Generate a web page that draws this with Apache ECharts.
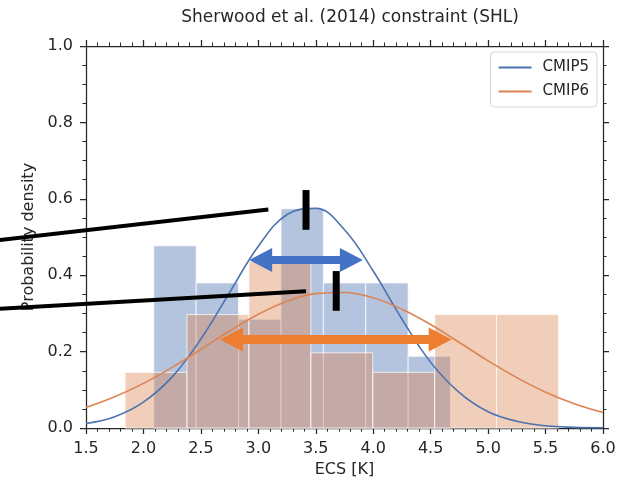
<!DOCTYPE html>
<html>
<head>
<meta charset="utf-8">
<script src="https://cdn.jsdelivr.net/npm/echarts@6/dist/echarts.min.js"></script>
<style>
  html, body { margin: 0; padding: 0; background: #fff; }
  #main { width: 621px; height: 483px; }
</style>
</head>
<body>
<div id="main"></div>
<script>
// histogram bin edges and densities
const cmip5Edges = [2.09, 2.459, 2.828, 3.197, 3.566, 3.935, 4.304, 4.673];
const cmip5Dens = [0.477, 0.380, 0.285, 0.574, 0.380, 0.380, 0.188];
const cmip6Edges = [1.84, 2.379, 2.918, 3.457, 3.996, 4.535, 5.074, 5.613];
const cmip6Dens = [0.146, 0.297, 0.436, 0.197, 0.146, 0.297, 0.297];

// fitted curves
const curveX = [1.5, 1.75, 2.0, 2.25, 2.5, 2.75, 3.0, 3.25, 3.5, 3.75, 4.0, 4.25, 4.5, 4.75, 5.0, 5.25, 5.5, 5.75, 6.0];
const cmip5Curve = [0.012, 0.030, 0.068, 0.134, 0.233, 0.355, 0.476, 0.559, 0.575, 0.519, 0.411, 0.285, 0.172, 0.093, 0.043, 0.018, 0.006, 0.002, 0.001];
const cmip6Curve = [0.054, 0.082, 0.117, 0.159, 0.206, 0.254, 0.298, 0.332, 0.352, 0.355, 0.341, 0.311, 0.271, 0.224, 0.176, 0.132, 0.094, 0.064, 0.041];

// range arrows: [from, to, y]
const arrows = [[2.92, 3.91, 0.440], [2.666, 4.683, 0.232]];
const arrowColors = ['#4472c4', '#ed7d31'];

// black annotation strokes: [x0, y0, x1, y1, width]
const strokes = [
  [0.74, 0.492, 3.087, 0.572, 4],
  [0.74, 0.312, 3.415, 0.358, 4],
  [3.415, 0.519, 3.415, 0.623, 7],
  [3.678, 0.307, 3.678, 0.411, 7]
];

const blue = '#4c72b0';
const orange = '#dd8452';
const ink = '#262626';

function histData(edges, dens) {
  return dens.map((d, i) => [edges[i], edges[i + 1], d]);
}

function histSeries(name, edges, dens, fill) {
  return {
    name: name + ' hist',
    type: 'custom',
    data: histData(edges, dens),
    encode: { x: [0, 1], y: 2 },
    silent: true,
    renderItem: function (params, api) {
      const p0 = api.coord([api.value(0), api.value(2)]);
      const p1 = api.coord([api.value(1), 0]);
      return {
        type: 'rect',
        shape: { x: p0[0], y: p0[1], width: p1[0] - p0[0], height: p1[1] - p0[1] },
        style: { fill: fill, stroke: 'rgba(255,255,255,0.75)', lineWidth: 1 }
      };
    }
  };
}

function makeX(pos) {
  const bottom = pos === 'bottom';
  return {
    type: 'value', position: pos, min: 1.5, max: 6.0, interval: 0.5,
    axisLine: { show: true, onZero: false, lineStyle: { color: ink, width: 1.25 } },
    axisTick: { show: true, length: 6, lineStyle: { color: ink, width: 1.25 } },
    minorTick: { show: true, splitNumber: 5, length: 3.5, lineStyle: { color: ink, width: 1 } },
    splitLine: { show: false },
    axisLabel: { show: bottom, fontSize: 16, color: ink, margin: 13, formatter: v => v.toFixed(1) },
    name: bottom ? 'ECS [K]' : '',
    nameLocation: 'middle', nameGap: 33,
    nameTextStyle: { fontSize: 16, color: ink }
  };
}

function makeY(pos) {
  const left = pos === 'left';
  return {
    type: 'value', position: pos, min: 0, max: 1.0, interval: 0.2,
    axisLine: { show: true, onZero: false, lineStyle: { color: ink, width: 1.25 } },
    axisTick: { show: true, length: 6, lineStyle: { color: ink, width: 1.25 } },
    minorTick: { show: true, splitNumber: 4, length: 3.5, lineStyle: { color: ink, width: 1 } },
    splitLine: { show: false },
    axisLabel: { show: left, fontSize: 16, color: ink, margin: 13, formatter: v => v.toFixed(1) },
    name: left ? 'Probability density' : '',
    nameLocation: 'middle', nameGap: 47,
    nameTextStyle: { fontSize: 16, color: ink }
  };
}

const series = [
  histSeries('CMIP5', cmip5Edges, cmip5Dens, 'rgba(76,114,176,0.42)'),
  histSeries('CMIP6', cmip6Edges, cmip6Dens, 'rgba(221,132,82,0.4)'),
  {
    name: 'CMIP5', type: 'line', smooth: 0.4, symbol: 'none',
    data: curveX.map((x, i) => [x, cmip5Curve[i]]),
    lineStyle: { color: blue, width: 1.6 }, itemStyle: { color: blue }, z: 3
  },
  {
    name: 'CMIP6', type: 'line', smooth: 0.4, symbol: 'none',
    data: curveX.map((x, i) => [x, cmip6Curve[i]]),
    lineStyle: { color: orange, width: 1.6 }, itemStyle: { color: orange }, z: 3
  },
  {
    name: 'arrows', type: 'custom', data: arrows, silent: true, z: 4,
    encode: { x: [0, 1], y: 2 },
    renderItem: function (params, api) {
      const a = api.coord([api.value(0), api.value(2)]);
      const b = api.coord([api.value(1), api.value(2)]);
      const hl = 23, hw = 12, sw = params.dataIndex === 0 ? 4 : 4.5;
      const y = a[1];
      const pts = [
        [a[0], y], [a[0] + hl, y - hw], [a[0] + hl, y - sw], [b[0] - hl, y - sw],
        [b[0] - hl, y - hw], [b[0], y], [b[0] - hl, y + hw], [b[0] - hl, y + sw],
        [a[0] + hl, y + sw], [a[0] + hl, y + hw]
      ];
      return { type: 'polygon', shape: { points: pts }, style: { fill: arrowColors[params.dataIndex] } };
    }
  },
  {
    name: 'strokes', type: 'custom', data: strokes, silent: true, z: 6, clip: false,
    encode: { x: [0, 2], y: [1, 3] },
    renderItem: function (params, api) {
      const a = api.coord([api.value(0), api.value(1)]);
      const b = api.coord([api.value(2), api.value(3)]);
      return {
        type: 'line',
        shape: { x1: a[0], y1: a[1], x2: b[0], y2: b[1] },
        style: { stroke: '#000', lineWidth: api.value(4), lineCap: 'butt' }
      };
    }
  }
];

const chart = echarts.init(document.getElementById('main'));
chart.setOption({
  animation: false,
  backgroundColor: '#fff',
  title: {
    text: 'Sherwood et al. (2014) constraint (SHL)',
    left: 345, top: 4, textAlign: 'center',
    textStyle: { fontFamily: 'DejaVu Sans', fontSize: 17, fontWeight: 'normal', color: ink }
  },
  textStyle: { fontFamily: 'DejaVu Sans' },
  legend: {
    data: ['CMIP5', 'CMIP6'], right: 24, top: 52, orient: 'vertical',
    icon: 'rect', itemWidth: 33, itemHeight: 2, itemGap: 9,
    padding: [8, 8, 8, 8],
    backgroundColor: '#fff', borderColor: '#d6d6d6', borderWidth: 1, borderRadius: 4,
    textStyle: { fontSize: 15, color: ink, padding: [0, 0, 0, 6] }
  },
  grid: { left: 86, right: 18, top: 46, bottom: 52, containLabel: false },
  xAxis: [makeX('bottom'), makeX('top')],
  yAxis: [makeY('left'), makeY('right')],
  series: series
});
</script>
</body>
</html>
